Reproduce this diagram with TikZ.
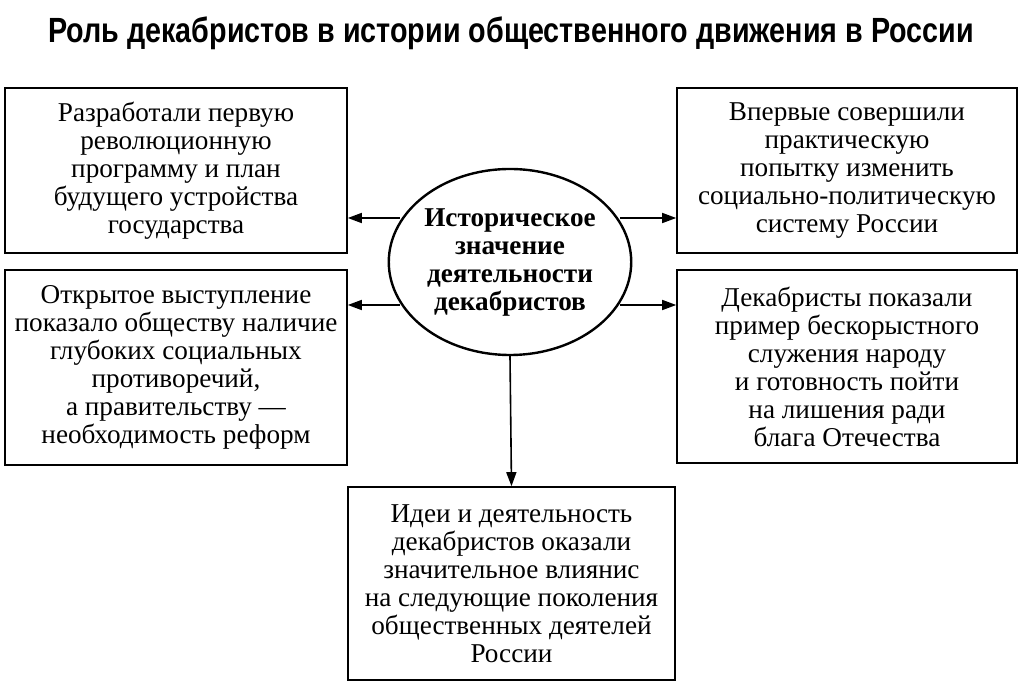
\documentclass[tikz,border=0pt]{standalone}
\usepackage{fontspec}
\setmainfont{Liberation Serif}
\newfontfamily\titlefont{Liberation Sans}
\usetikzlibrary{arrows.meta,shapes.geometric}
\begin{document}
\begin{tikzpicture}[x=0.5pt,y=-0.5pt,
  box/.style={draw,line width=0.8pt,align=center,inner sep=0pt,font=\fontsize{13.6}{14}\selectfont},
  arr/.style={-{Triangle[length=7pt,width=5pt]},line width=0.8pt}]
\useasboundingbox (0,0) rectangle (1024,683);
\node (title) at (511,33) {\titlefont\bfseries\fontsize{17.5}{19}\selectfont\scalebox{0.82}[1]{Роль декабристов в истории общественного движения в России}};
\node[box,minimum width=171pt,minimum height=82.5pt] (tl) at (176,170.5) {Разработали первую\\революционную\\программу и план\\будущего устройства\\государства};
\node[box,minimum width=170pt,minimum height=82.5pt] (tr) at (847,170.5) {Впервые совершили\\практическую\\попытку изменить\\социально-политическую\\систему России};
\node[box,minimum width=171pt,minimum height=97.5pt] (ml) at (176,367.5) {Открытое выступление\\показало обществу наличие\\глубоких социальных\\противоречий,\\а правительству —\\необходимость реформ};
\node[box,minimum width=170pt,minimum height=96.5pt] (mr) at (847,366.5) {Декабристы показали\\пример бескорыстного\\служения народу\\и готовность пойти\\на лишения ради\\блага Отечества};
\node[box,minimum width=163.5pt,minimum height=96.5pt] (bt) at (511.5,583.5) {Идеи и деятельность\\декабристов оказали\\значительное влиянис\\на следующие поколения\\общественных деятелей\\России};
\node[draw,line width=1.2pt,ellipse,minimum width=113pt,minimum height=93pt,inner sep=0pt,align=center,font=\bfseries\fontsize{13.6}{14}\selectfont] (el) at (510,262) {Историческое\\значение\\деятельности\\декабристов};
\coordinate (a1) at (400,218); \coordinate (a2) at (400,305);
\coordinate (b1) at (620,218); \coordinate (b2) at (620,305);
\draw[arr] (a1) -- (a1 -| tl.east);
\draw[arr] (a2) -- (a2 -| ml.east);
\draw[arr] (b1) -- (b1 -| tr.west);
\draw[arr] (b2) -- (b2 -| mr.west);
\draw[arr] (el.south) -- (bt.north);
\end{tikzpicture}
\end{document}
